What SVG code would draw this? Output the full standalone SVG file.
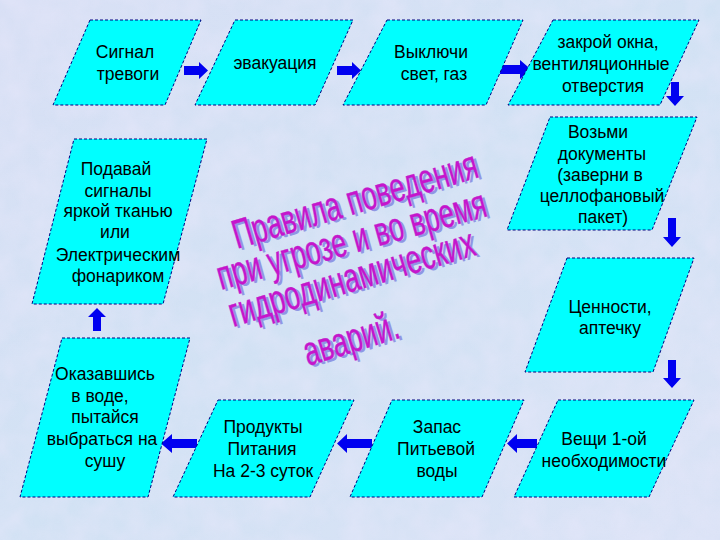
<svg xmlns="http://www.w3.org/2000/svg" width="720" height="540" viewBox="0 0 720 540">
<style>
.node polygon{fill:#00ffff;stroke:#000080;stroke-width:1;stroke-dasharray:3 2}
.node text{font-family:"Liberation Sans",Arial,sans-serif;font-size:17.5px;fill:#000;text-anchor:middle}
.arr{fill:#0000f0}
.title{font-family:"Liberation Sans",Arial,sans-serif;font-size:41px}
.t-sh{fill:#9096e4}
.t-fg{fill:#c416cc;stroke:#c416cc;stroke-width:0.4}
</style>
<defs>
<linearGradient id="bg" x1="0" y1="0" x2="1" y2="1">
<stop offset="0" stop-color="#d9e0f5"/>
<stop offset="0.5" stop-color="#d2e2f4"/>
<stop offset="1" stop-color="#dbe3f6"/>
</linearGradient>
<filter id="tex" x="0" y="0" width="100%" height="100%">
<feTurbulence type="fractalNoise" baseFrequency="0.035" numOctaves="3" seed="7"/>
<feColorMatrix type="matrix" values="0 0 0 0 0.80  0 0 0 0 0.80  0 0 0 0 0.96  0 0 0 1.1 -0.3"/>
</filter>
</defs>
<rect width="720" height="540" fill="url(#bg)"/>
<rect width="720" height="540" filter="url(#tex)" opacity="0.75"/>

<g id="title" class="title">
<g transform="translate(237,249) rotate(-16.5)">
<text class="t-sh" x="2.5" y="2.5" textLength="254" lengthAdjust="spacingAndGlyphs">Правила поведения</text>
<text class="t-fg" x="0" y="0" textLength="254" lengthAdjust="spacingAndGlyphs">Правила поведения</text>
</g>
<g transform="translate(221,290) rotate(-15.5)">
<text class="t-sh" x="2.5" y="2.5" textLength="278" lengthAdjust="spacingAndGlyphs">при угрозе и во время</text>
<text class="t-fg" x="0" y="0" textLength="278" lengthAdjust="spacingAndGlyphs">при угрозе и во время</text>
</g>
<g transform="translate(233,327) rotate(-16.5)">
<text class="t-sh" x="2.5" y="2.5" textLength="255" lengthAdjust="spacingAndGlyphs">гидродинамических</text>
<text class="t-fg" x="0" y="0" textLength="255" lengthAdjust="spacingAndGlyphs">гидродинамических</text>
</g>
<g transform="translate(308,366) rotate(-17)">
<text class="t-sh" x="2.5" y="2.5" textLength="98" lengthAdjust="spacingAndGlyphs">аварий.</text>
<text class="t-fg" x="0" y="0" textLength="98" lengthAdjust="spacingAndGlyphs">аварий.</text>
</g>
</g>

<g id="connectors">
<polygon class="arr" points="184,66 199,66 199,62 208,70.5 199,79 199,75 184,75"/>
<polygon class="arr" points="337,66 352,66 352,62 361,70.5 352,79 352,75 337,75"/>
<polygon class="arr" points="500,65 520,65 520,60 531,69.5 520,79 520,74 500,74"/>
<polygon class="arr" points="671,82 679,82 679,96 684,96 675,106 666,96 671,96"/>
<polygon class="arr" points="668,218 676,218 676,237 681,237 672,247 663,237 668,237"/>
<polygon class="arr" points="668,360 676,360 676,378 681,378 672,388 663,378 668,378"/>
<polygon class="arr" points="537,439 517,439 517,434 507,443.5 517,453 517,448 537,448"/>
<polygon class="arr" points="372,439 347,439 347,434 337,443.5 347,453 347,448 372,448"/>
<polygon class="arr" points="197,439 172,439 172,434 161,443.5 172,453 172,448 197,448"/>
<polygon class="arr" points="97,308 106,317 101,317 101,331 93,331 93,317 88,317"/>
</g>

<g id="n1" class="node">
<polygon points="90,20 201,20 165,105 53,105"/>
<text x="125" y="58">Сигнал</text>
<text x="128" y="80">тревоги</text>
</g>
<g id="n2" class="node">
<polygon points="235,20 353,20 315,105 195,105"/>
<text x="275" y="69">эвакуация</text>
</g>
<g id="n3" class="node">
<polygon points="387,20 523,20 486,105 343,105"/>
<text x="431" y="58">Выключи</text>
<text x="434" y="80">свет, газ</text>
</g>
<g id="n4" class="node">
<polygon points="553,20 699,20 660,105 508,105"/>
<text x="608" y="48">закрой окна,</text>
<text x="601" y="70">вентиляционные</text>
<text x="603" y="92">отверстия</text>
</g>
<g id="n5" class="node">
<polygon points="550,117 697,117 652,230 507,230"/>
<text x="598" y="138">Возьми</text>
<text x="602" y="160">документы</text>
<text x="600" y="181">(заверни в</text>
<text x="602" y="202">целлофановый</text>
<text x="603" y="223">пакет)</text>
</g>
<g id="n6" class="node">
<polygon points="567,258 694,258 653,372 525,372"/>
<text x="610" y="313">Ценности,</text>
<text x="610" y="334">аптечку</text>
</g>
<g id="n7" class="node">
<polygon points="558,400 694,400 649,497 514,497"/>
<text x="604" y="445">Вещи 1-ой</text>
<text x="604" y="467">необходимости</text>
</g>
<g id="n8" class="node">
<polygon points="392,400 524,400 482,497 350,497"/>
<text x="437" y="433">Запас</text>
<text x="436" y="455">Питьевой</text>
<text x="437" y="477">воды</text>
</g>
<g id="n9" class="node">
<polygon points="218,400 354,400 310,497 173,497"/>
<text x="263" y="433">Продукты</text>
<text x="262" y="455">Питания</text>
<text x="263" y="477">На 2-3 суток</text>
</g>
<g id="n10" class="node">
<polygon points="62,338 190,338 148,497 20,497"/>
<text x="105" y="380">Оказавшись</text>
<text x="100" y="402">в воде,</text>
<text x="105" y="423">пытайся</text>
<text x="102" y="445">выбраться на</text>
<text x="105" y="467">сушу</text>
</g>
<g id="n11" class="node">
<polygon points="74,139 207,139 163,304 32,304"/>
<text x="116" y="175">Подавай</text>
<text x="118" y="197">сигналы</text>
<text x="118" y="217">яркой тканью</text>
<text x="115" y="238">или</text>
<text x="118" y="261">Электрическим</text>
<text x="118" y="282">фонариком</text>
</g>
</svg>
